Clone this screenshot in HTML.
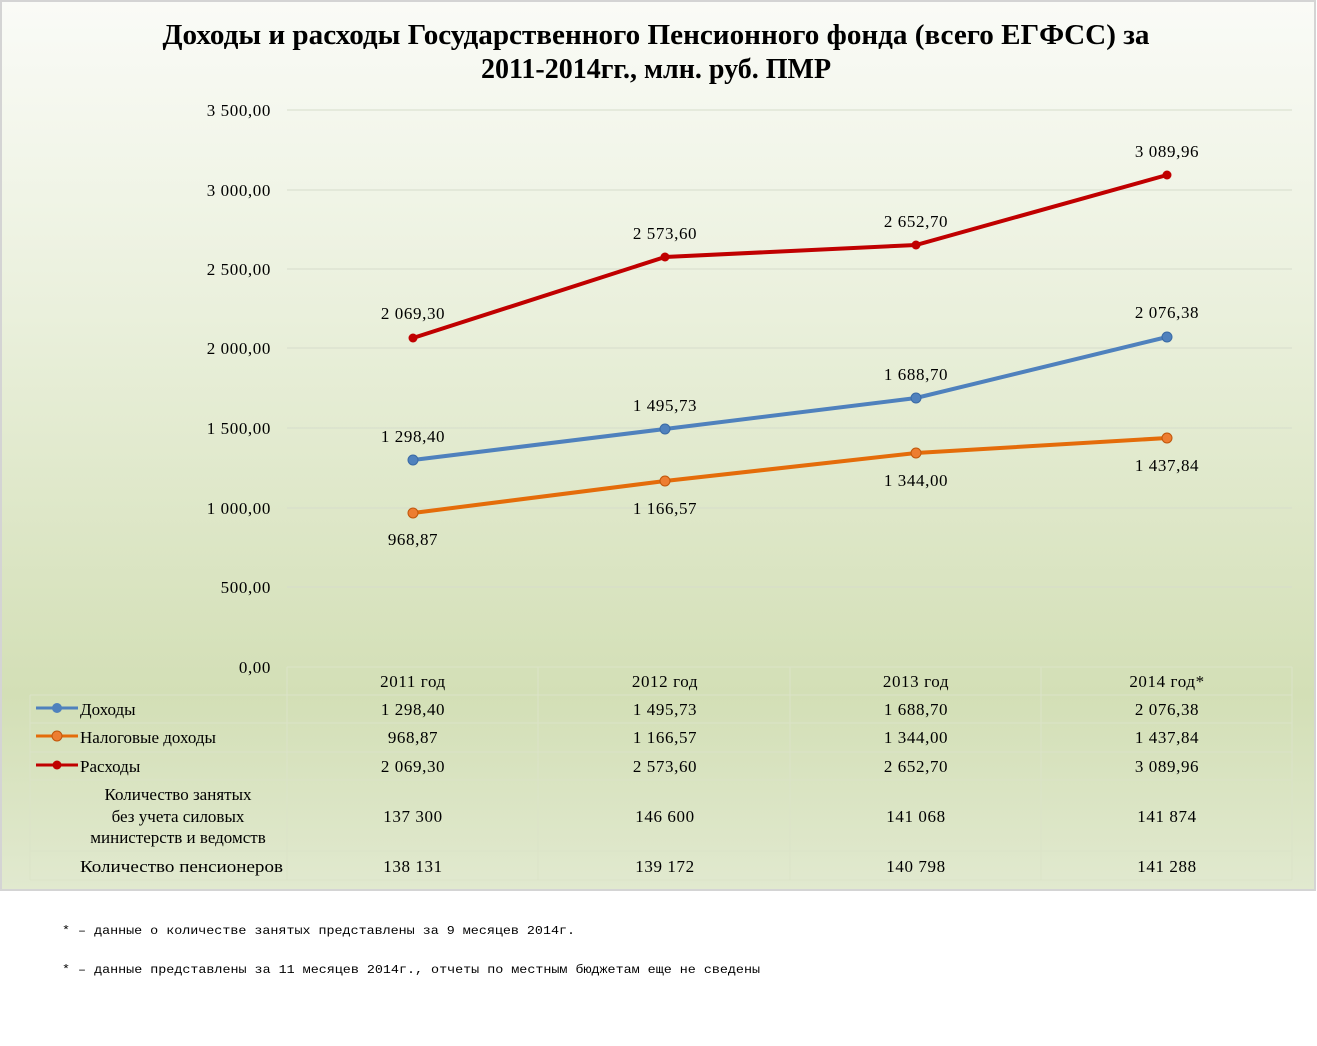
<!DOCTYPE html>
<html><head><meta charset="utf-8"><style>
body{margin:0;width:1317px;height:1046px;background:#fff;overflow:hidden}
svg{display:block}
</style></head><body>
<svg width="1317" height="1046" xmlns="http://www.w3.org/2000/svg" font-family="'Liberation Serif',serif">
<defs>
<linearGradient id="bg" x1="0" y1="0" x2="0" y2="1">
<stop offset="0" stop-color="#fafbf7"/>
<stop offset="0.35" stop-color="#eaf0dc"/>
<stop offset="0.78" stop-color="#d3dfb6"/>
<stop offset="1" stop-color="#e1e9cf"/>
</linearGradient>
</defs>
<rect x="1" y="1" width="1314" height="889" fill="url(#bg)" stroke="#d4d4d4" stroke-width="2"/>
<text x="656" y="44" font-size="28" font-weight="bold" text-anchor="middle" textLength="987" lengthAdjust="spacingAndGlyphs">Доходы и расходы Государственного  Пенсионного фонда (всего ЕГФСС) за</text>
<text x="656" y="78" font-size="28" font-weight="bold" text-anchor="middle">2011-2014гг., млн. руб. ПМР</text>
<g stroke="#d6dccb" stroke-width="1">
<line x1="287" x2="1292" y1="110" y2="110"/><line x1="287" x2="1292" y1="190" y2="190"/>
<line x1="287" x2="1292" y1="269" y2="269"/><line x1="287" x2="1292" y1="348" y2="348"/>
<line x1="287" x2="1292" y1="428" y2="428"/><line x1="287" x2="1292" y1="508" y2="508"/>
<line x1="287" x2="1292" y1="587" y2="587"/>
</g>
<g font-size="17" letter-spacing="0.6">
<g text-anchor="end">
<text x="271" y="116">3 500,00</text><text x="271" y="196">3 000,00</text>
<text x="271" y="275">2 500,00</text><text x="271" y="354">2 000,00</text>
<text x="271" y="434">1 500,00</text><text x="271" y="514">1 000,00</text>
<text x="271" y="593">500,00</text><text x="271" y="673">0,00</text>
</g>
<g text-anchor="middle">
<text x="413" y="319">2 069,30</text><text x="665" y="239">2 573,60</text><text x="916" y="227">2 652,70</text><text x="1167" y="157">3 089,96</text>
<text x="413" y="442">1 298,40</text><text x="665" y="411">1 495,73</text><text x="916" y="380">1 688,70</text><text x="1167" y="318">2 076,38</text>
<text x="413" y="545">968,87</text><text x="665" y="514">1 166,57</text><text x="916" y="486">1 344,00</text><text x="1167" y="471">1 437,84</text>
<text x="413" y="687">2011 год</text><text x="665" y="687">2012 год</text><text x="916" y="687">2013 год</text><text x="1167" y="687">2014 год*</text>
<text x="413" y="715">1 298,40</text><text x="665" y="715">1 495,73</text><text x="916" y="715">1 688,70</text><text x="1167" y="715">2 076,38</text>
<text x="413" y="743">968,87</text><text x="665" y="743">1 166,57</text><text x="916" y="743">1 344,00</text><text x="1167" y="743">1 437,84</text>
<text x="413" y="772">2 069,30</text><text x="665" y="772">2 573,60</text><text x="916" y="772">2 652,70</text><text x="1167" y="772">3 089,96</text>
<text x="413" y="822">137 300</text><text x="665" y="822">146 600</text><text x="916" y="822">141 068</text><text x="1167" y="822">141 874</text>
<text x="413" y="872">138 131</text><text x="665" y="872">139 172</text><text x="916" y="872">140 798</text><text x="1167" y="872">141 288</text>
<text x="178" y="800" letter-spacing="0">Количество занятых</text>
<text x="178" y="822" letter-spacing="0">без учета силовых</text>
<text x="178" y="843" letter-spacing="0">министерств и ведомств</text>
</g>
<g letter-spacing="0">
<text x="80" y="715">Доходы</text><text x="80" y="743">Налоговые доходы</text><text x="80" y="772">Расходы</text>
<text x="80" y="872" textLength="203" lengthAdjust="spacingAndGlyphs">Количество пенсионеров</text>
</g>
</g>
<g stroke="#dbe3c8" stroke-width="1" fill="none">
<line x1="287" x2="1292" y1="667" y2="667"/>
<line x1="30" x2="1292" y1="695" y2="695"/><line x1="30" x2="1292" y1="723" y2="723"/>
<line x1="30" x2="1292" y1="752" y2="752"/><line x1="30" x2="1292" y1="780" y2="780"/>
<line x1="30" x2="1292" y1="851" y2="851"/><line x1="30" x2="1292" y1="880" y2="880"/>
<line x1="30" x2="30" y1="695" y2="880"/><line x1="287" x2="287" y1="667" y2="880"/>
<line x1="538" x2="538" y1="667" y2="880"/><line x1="790" x2="790" y1="667" y2="880"/>
<line x1="1041" x2="1041" y1="667" y2="880"/><line x1="1292" x2="1292" y1="667" y2="880"/>
</g>
<polyline points="413,338 665,257 916,245 1167,175" fill="none" stroke="#c00000" stroke-width="4"/>
<polyline points="413,460 665,429 916,398 1167,337" fill="none" stroke="#4f81bd" stroke-width="4"/>
<polyline points="413,513 665,481 916,453 1167,438" fill="none" stroke="#e46c0a" stroke-width="4"/>
<g fill="#c00000"><circle cx="413" cy="338" r="4.5"/><circle cx="665" cy="257" r="4.5"/><circle cx="916" cy="245" r="4.5"/><circle cx="1167" cy="175" r="4.5"/></g>
<g fill="#4f81bd" stroke="#3a6aa5" stroke-width="1"><circle cx="413" cy="460" r="5"/><circle cx="665" cy="429" r="5"/><circle cx="916" cy="398" r="5"/><circle cx="1167" cy="337" r="5"/></g>
<g fill="#ed7d31" stroke="#c0560a" stroke-width="1"><circle cx="413" cy="513" r="5"/><circle cx="665" cy="481" r="5"/><circle cx="916" cy="453" r="5"/><circle cx="1167" cy="438" r="5"/></g>
<line x1="36" x2="78" y1="708" y2="708" stroke="#4f81bd" stroke-width="3"/><circle cx="57" cy="708" r="5" fill="#4f81bd"/>
<line x1="36" x2="78" y1="736" y2="736" stroke="#e46c0a" stroke-width="3"/><circle cx="57" cy="736" r="5" fill="#ed7d31" stroke="#c0560a"/>
<line x1="36" x2="78" y1="765" y2="765" stroke="#c00000" stroke-width="3"/><circle cx="57" cy="765" r="4.5" fill="#c00000"/>
<g font-family="'Liberation Mono',monospace" font-size="12">
<text x="62" y="934" textLength="513" lengthAdjust="spacingAndGlyphs">* – данные о количестве занятых представлены за 9 месяцев 2014г.</text>
<text x="62" y="973" textLength="698" lengthAdjust="spacingAndGlyphs">* – данные представлены за 11 месяцев 2014г., отчеты по местным бюджетам еще не сведены</text>
</g>
</svg>
</body></html>
